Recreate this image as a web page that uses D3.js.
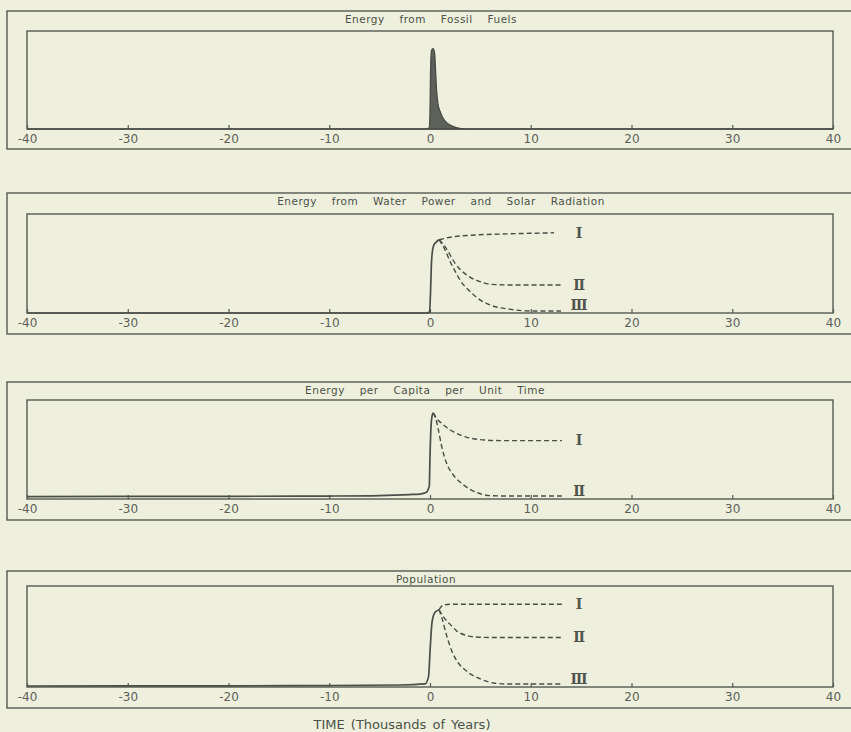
<!DOCTYPE html>
<html>
<head>
<meta charset="utf-8">
<script src="https://cdn.jsdelivr.net/npm/d3@7"></script>
<style>
	html, body { margin: 0; padding: 0; background: #eef0dd; }
	svg { display: block; }
	.frame { fill: none; stroke: #555a52; stroke-width: 1.4; }
	.tick-label { font-family: 'DejaVu Sans', sans-serif; font-size: 12px; fill: #5c6058; }
	.title { font-family: 'DejaVu Sans', sans-serif; font-size: 10.5px; fill: #4c5048; word-spacing: 11px; letter-spacing: 0.5px; }
	.solid { fill: none; stroke: #4a4e47; stroke-width: 1.7; }
	.dash { fill: none; stroke: #4a4e47; stroke-width: 1.4; stroke-dasharray: 5,3; }
	.roman { font-family: 'DejaVu Serif', serif; font-size: 14px; font-weight: bold; fill: #50544c; }
</style>
</head>
<body>
<div id="chart"></div>
<script>
// tick labels (thousands of years)
const tickYears = [-40, -30, -20, -10, 0, 10, 20, 30, 40];

const panelTitles = [
	'Energy from Fossil Fuels',
	'Energy from Water Power and Solar Radiation',
	'Energy per Capita per Unit Time',
	'Population'
];

// panel 1: fossil fuels
const fossilYears = [-40, -0.5, -0.1, 0, 0.05, 0.15, 0.3, 0.45, 0.55, 0.65, 0.8, 1.0, 1.3, 1.6, 2.0, 2.6, 3.5, 40];
const fossilEnergy = [0, 0, 0.01, 0.15, 0.55, 0.8, 0.82, 0.78, 0.6, 0.4, 0.25, 0.18, 0.11, 0.07, 0.04, 0.015, 0, 0];

// panel 2: water power and solar radiation
const waterYears = [-40, -0.3, -0.05, 0.05, 0.13, 0.26, 0.4, 0.56, 0.75, 0.9];
const waterEnergy = [0, 0, 0.01, 0.2, 0.47, 0.64, 0.69, 0.71, 0.73, 0.74];
const waterYearsI = [0.9, 2, 4, 8, 12.3];
const waterI = [0.74, 0.765, 0.785, 0.8, 0.81];
const waterYearsII = [0.9, 1.5, 2, 2.5, 3, 4, 5, 6, 8, 13];
const waterII = [0.74, 0.67, 0.586, 0.5, 0.44, 0.36, 0.316, 0.29, 0.283, 0.283];
const waterYearsIII = [0.9, 1.5, 2, 2.5, 3, 4, 5, 6, 8, 10, 13];
const waterIII = [0.74, 0.636, 0.52, 0.42, 0.33, 0.215, 0.13, 0.08, 0.037, 0.02, 0.02];

// panel 3: energy per capita
const capitaYears = [-40, -20, -10, -5, -2, -1, -0.4, -0.07, 0, 0.1, 0.23, 0.33];
const capitaEnergy = [0.025, 0.027, 0.03, 0.035, 0.045, 0.05, 0.065, 0.13, 0.43, 0.73, 0.85, 0.87];
const capitaYearsI = [0.33, 0.66, 1.32, 2.3, 3.6, 5, 7, 13.1];
const capitaI = [0.87, 0.815, 0.75, 0.68, 0.625, 0.6, 0.59, 0.59];
const capitaYearsII = [0.33, 0.6, 0.83, 1.16, 1.65, 2.3, 3.3, 4.6, 6, 8, 13.1];
const capitaII = [0.87, 0.8, 0.7, 0.53, 0.36, 0.245, 0.145, 0.067, 0.034, 0.03, 0.03];

// panel 4: population
const popYears = [-40, -20, -10, -3, -0.5, -0.15, 0.03, 0.2, 0.5, 0.9];
const population = [0.01, 0.012, 0.015, 0.02, 0.03, 0.1, 0.4, 0.64, 0.74, 0.765];
const popYearsI = [0.9, 1.3, 2, 5, 13.2];
const popI = [0.765, 0.81, 0.82, 0.82, 0.82];
const popYearsII = [0.9, 1.3, 2, 2.65, 3.65, 4.6, 6, 13.2];
const popII = [0.765, 0.7, 0.62, 0.555, 0.51, 0.495, 0.49, 0.49];
const popYearsIII = [0.9, 1.16, 1.65, 2.15, 2.8, 3.65, 5, 6.3, 7.6, 13.2];
const popIII = [0.765, 0.69, 0.51, 0.36, 0.24, 0.155, 0.08, 0.04, 0.03, 0.03];

const zip = (xs, ys) => xs.map((x, i) => [x, ys[i]]);

const panels = [
	{ title: panelTitles[0], titleX: 431, outer: [11, 149], inner: [31, 129],
		area: zip(fossilYears, fossilEnergy), solid: null, branches: [] },
	{ title: panelTitles[1], titleX: 441, outer: [193, 334], inner: [214, 313],
		solid: zip(waterYears, waterEnergy),
		branches: [
			{ label: 'Ⅰ', pts: zip(waterYearsI, waterI) },
			{ label: 'Ⅱ', pts: zip(waterYearsII, waterII) },
			{ label: 'Ⅲ', pts: zip(waterYearsIII, waterIII) }
		] },
	{ title: panelTitles[2], titleX: 425, outer: [382, 520], inner: [400, 499],
		solid: zip(capitaYears, capitaEnergy),
		branches: [
			{ label: 'Ⅰ', pts: zip(capitaYearsI, capitaI) },
			{ label: 'Ⅱ', pts: zip(capitaYearsII, capitaII) }
		] },
	{ title: panelTitles[3], titleX: 426, outer: [571, 708], inner: [586, 687],
		solid: zip(popYears, population),
		branches: [
			{ label: 'Ⅰ', pts: zip(popYearsI, popI) },
			{ label: 'Ⅱ', pts: zip(popYearsII, popII) },
			{ label: 'Ⅲ', pts: zip(popYearsIII, popIII) }
		] }
];

const width = 851, height = 732;
const innerLeft = 27, innerRight = 833;

const svg = d3.select('#chart').append('svg')
	.attr('width', width)
	.attr('height', height);

const x = d3.scaleLinear().domain([-40, 40]).range([innerLeft, innerRight]);

panels.forEach(p => {
	const y = d3.scaleLinear().domain([0, 1]).range([p.inner[1], p.inner[0]]);
	const g = svg.append('g');

	// outer frame (runs off the right edge like the scan)
	g.append('rect').attr('class', 'frame')
		.attr('x', 7).attr('y', p.outer[0])
		.attr('width', 850).attr('height', p.outer[1] - p.outer[0]);

	g.append('rect').attr('class', 'frame')
		.attr('x', innerLeft).attr('y', p.inner[0])
		.attr('width', innerRight - innerLeft).attr('height', p.inner[1] - p.inner[0]);

	g.append('text').attr('class', 'title')
		.attr('x', p.titleX).attr('y', p.outer[0] + 12)
		.attr('text-anchor', 'middle')
		.text(p.title);

	// inward ticks + labels
	const axis = d3.axisBottom(x).tickValues(tickYears).tickSize(-4).tickPadding(5)
		.tickFormat(d => d < 0 ? '-' + Math.abs(d) : d);
	const ax = g.append('g').attr('transform', `translate(0,${p.inner[1]})`).call(axis);
	ax.select('.domain').remove();
	ax.selectAll('.tick line').attr('stroke', '#555a52').attr('stroke-width', 1.2);
	ax.selectAll('.tick text').attr('class', 'tick-label').attr('fill', null).attr('font-size', null).attr('font-family', null);

	const line = d3.line().x(d => x(d[0])).y(d => y(d[1])).curve(d3.curveMonotoneX);

	if (p.area) {
		const area = d3.area().x(d => x(d[0])).y0(y(0)).y1(d => y(d[1])).curve(d3.curveMonotoneX);
		g.append('path').datum(p.area)
			.attr('d', area)
			.attr('fill', '#5d615a')
			.attr('stroke', '#474b44')
			.attr('stroke-width', 1.3);
	}

	if (p.solid) {
		g.append('path').datum(p.solid).attr('class', 'solid').attr('d', line);
	}

	p.branches.forEach(b => {
		g.append('path').datum(b.pts).attr('class', 'dash').attr('d', line);
		const last = b.pts[b.pts.length - 1];
		g.append('text').attr('class', 'roman')
			.attr('x', x(14.8))
			.attr('y', Math.min(y(last[1]), p.inner[1] - 8))
			.attr('dy', '0.35em')
			.attr('text-anchor', 'middle')
			.text(b.label);
	});
});

svg.append('text')
	.attr('x', 402).attr('y', 729)
	.attr('text-anchor', 'middle')
	.attr('font-family', 'DejaVu Sans, sans-serif')
	.attr('font-size', 13)
	.attr('fill', '#4c5048')
	.attr('word-spacing', 2)
	.text('TIME (Thousands of Years)');
</script>
</body>
</html>
